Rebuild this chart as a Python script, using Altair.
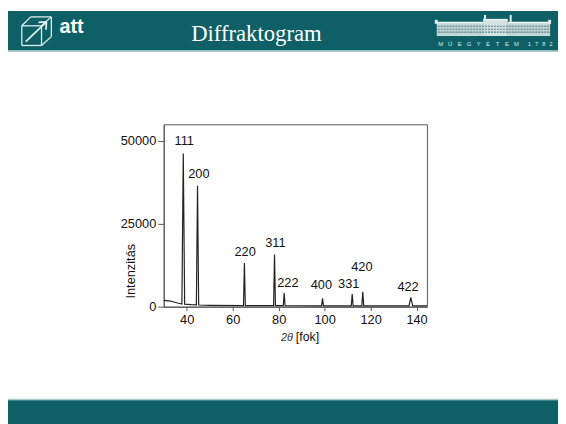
import altair as alt
import pandas as pd

# ---- data (aluminium diffractogram) ----
two_theta = [30, 33, 36, 37.9, 38.5, 39.1, 42, 44.2, 44.7, 45.2, 50,
             64.7, 65.1, 65.5, 77.8, 78.2, 78.6, 82.0, 82.4, 82.8,
             98.7, 99.1, 99.5, 111.6, 112.0, 112.4, 116.2, 116.6, 117.0,
             136.7, 137.5, 138.3, 144.5]
intensity = [1900, 1700, 1100, 800, 46200, 750, 600, 550, 36500, 500, 400,
             300, 13200, 300, 300, 15700, 300, 300, 4100, 300,
             250, 2500, 250, 250, 3800, 250, 250, 4500, 250,
             250, 2800, 250, 250]

hkl = ["111", "200", "220", "311", "222", "400", "331", "420", "422"]
label_x = [38.9, 45.3, 65.4, 78.6, 84.0, 98.6, 110.5, 116.2, 136.3]
label_y = [48900, 38800, 15200, 18000, 5800, 5300, 5600, 10700, 4800]

x_ticks = [40, 60, 80, 100, 120, 140]
y_ticks = [0, 25000, 50000]

logo_letters = ["M", "Ű", "E", "G", "Y", "E", "T", "E", "M", "1", "7", "8", "2"]

TEAL = "#0e6066"
LIGHT = "#a9c9c9"
FONT = "Liberation Sans"

W, H = 267, 185
PAD = {"left": 158, "top": 115, "right": 133, "bottom": 116}

curve = pd.DataFrame({"tt": two_theta, "I": intensity})
labels = pd.DataFrame({"hkl": hkl, "lx": label_x, "ly": label_y})
one = pd.DataFrame({"a": [0]})

xscale = alt.Scale(domain=[30, 144.5], nice=False, zero=False)
yscale = alt.Scale(domain=[0, 55000], nice=False)

line = alt.Chart(curve).mark_line(color="#222", strokeWidth=1.2).encode(
    x=alt.X("tt:Q", scale=xscale,
            axis=alt.Axis(values=x_ticks, title=None, grid=False,
                          labelFont=FONT, labelFontSize=13, labelColor="#111",
                          tickSize=4, labelPadding=3, domainColor="#555",
                          tickColor="#555")),
    y=alt.Y("I:Q", scale=yscale,
            axis=alt.Axis(values=y_ticks, format="d", title=None, grid=False,
                          labelFont=FONT, labelFontSize=13, labelColor="#111",
                          tickSize=6, labelPadding=2, domainColor="#555",
                          tickColor="#555")),
)

peak_text = alt.Chart(labels).mark_text(
    font=FONT, fontSize=13, color="#111", align="center", baseline="alphabetic"
).encode(x=alt.X("lx:Q", scale=xscale), y=alt.Y("ly:Q", scale=yscale), text="hkl:N")

layers = []

def rect(x0, y0, x1, y1, c):
    layers.append(alt.Chart(one).mark_rect(color=c).encode(
        x=alt.value(x0), x2=alt.value(x1), y=alt.value(y0), y2=alt.value(y1)))

def seg(x0, y0, x1, y1, c="#dfeeee", w=1.3, dash=None):
    kw = {"color": c, "strokeWidth": w}
    if dash:
        kw["strokeDash"] = dash
    layers.append(alt.Chart(one).mark_rule(**kw).encode(
        x=alt.value(x0), x2=alt.value(x1), y=alt.value(y0), y2=alt.value(y1)))

def txt(s, x, y, size, color, align="center", font=FONT, weight="normal",
        style="normal", angle=0, baseline="alphabetic"):
    layers.append(alt.Chart(one).mark_text(
        text=s, fontSize=size, color=color, align=align, font=font,
        fontWeight=weight, fontStyle=style, angle=angle, baseline=baseline
    ).encode(x=alt.value(x), y=alt.value(y)))

# page -> plot-relative coordinates
def px(x):
    return x - 166

def py(y):
    return y - 123

# header & footer bands
rect(px(8), py(8), px(570), py(48), TEAL)
rect(px(8), py(48), px(570), py(49.5), LIGHT)
rect(px(8), py(401.5), px(570), py(403), LIGHT)
rect(px(8), py(403), px(570), py(430), TEAL)

# att logo (box with arrow)
seg(px(22), py(23), px(42), py(23))
seg(px(42), py(23), px(42), py(43))
seg(px(42), py(43), px(22), py(43))
seg(px(22), py(43), px(22), py(23))
seg(px(22), py(23), px(31), py(14))
seg(px(31), py(14), px(52), py(14))
seg(px(52), py(14), px(42), py(23))
seg(px(52), py(14), px(52), py(34))
seg(px(52), py(34), px(42), py(43))
seg(px(26), py(39), px(47), py(19), w=1.8)
seg(px(47), py(19), px(39), py(19.5), w=1.8)
seg(px(47), py(19), px(46.5), py(27), w=1.8)
txt("att", px(72.5), py(30), 20, "white", weight="bold")

# slide title
txt("Diffraktogram", px(260), py(38), 23, "white", font="Liberation Serif")

# university logo (building sketch)
rect(px(443), py(20), px(490), py(33), "#c3d4d4")
rect(px(515), py(20), px(558), py(33), "#c3d4d4")
rect(px(490), py(17), px(515), py(33), "#d4e2e2")
rect(px(443), py(19), px(490), py(20.5), "#eef5f5")
rect(px(515), py(19), px(558), py(20.5), "#eef5f5")
rect(px(490), py(16), px(515), py(17.5), "#eef5f5")
rect(px(491), py(12), px(493), py(17), "#e6f0f0")
rect(px(517), py(12), px(519), py(20), "#e6f0f0")
rect(px(441), py(17), px(444), py(21), "#e6f0f0")
rect(px(556), py(17), px(559), py(21), "#e6f0f0")
for yy in (23.5, 26.5, 29.5):
    seg(px(444), py(yy), px(557), py(yy), c="#4f8285", w=1.2, dash=[2, 1])
rect(px(443), py(32.5), px(558), py(33.5), "#eef5f5")
for i, ch in enumerate(logo_letters):
    xx = 447 + i * 9.6 if i < 9 else 537 + (i - 9) * 7.3
    txt(ch, px(xx), py(44), 6, "#dbe7e7")

# axis titles
txt("Intenzitás", px(133), py(272), 13, "#111", angle=270, baseline="middle")
txt("2θ", px(297), py(342.5), 11, "#333", align="right", style="italic")
txt("[fok]", px(300), py(342.5), 12.5, "#111", align="left")

chart = alt.layer(*layers, line, peak_text).properties(
    width=W, height=H, padding=PAD,
    autosize=alt.AutoSizeParams(type="none"),
    background="white",
).configure_view(stroke="#555", strokeWidth=1)

chart.save("out.html", embed_options={"renderer": "svg", "actions": False})
